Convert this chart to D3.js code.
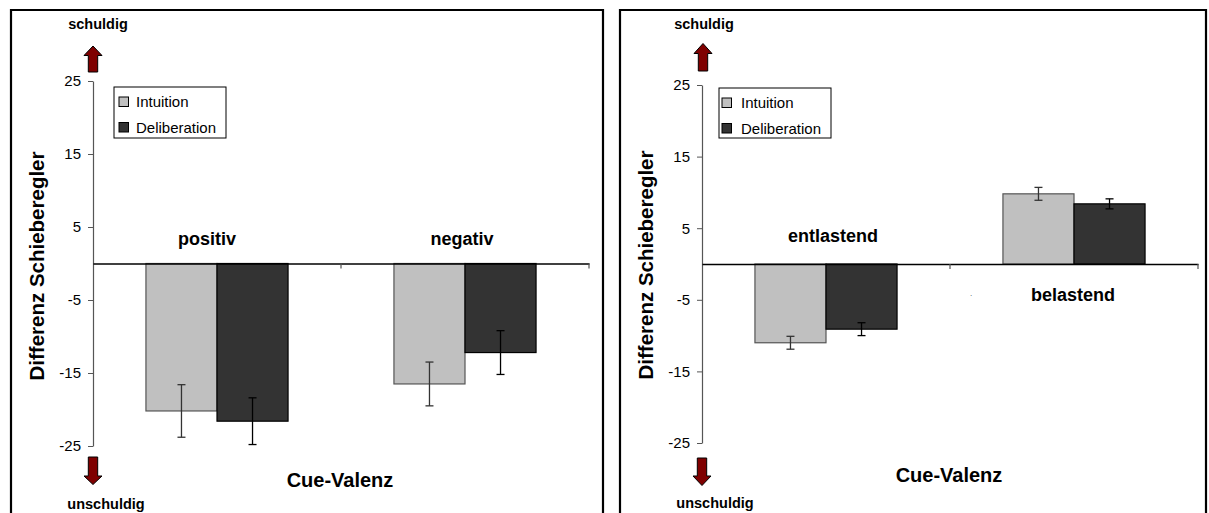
<!DOCTYPE html>
<html><head><meta charset="utf-8">
<script src="https://cdn.jsdelivr.net/npm/d3@7"></script>
<style>
html,body{margin:0;padding:0;background:#fff;}
svg{display:block;font-family:"Liberation Sans",Arial,Helvetica,sans-serif;}
</style></head>
<body>
<svg id="chart" width="1209" height="513"></svg>
<script>
// ---- data ----
const seriesNames = ["Intuition", "Deliberation"];
const yTickValues = [25, 15, 5, -5, -15, -25];
const yTickLabels = ["25", "15", "5", "-5", "-15", "-25"];
const yDomain = [-25, 25];

const categoriesA = ["positiv", "negativ"];
const intuitionA = [-20.2, -16.5];
const intuitionErrA = [3.6, 3.0];
const deliberationA = [-21.6, -12.2];
const deliberationErrA = [3.2, 3.0];

const categoriesB = ["entlastend", "belastend"];
const intuitionB = [-11.0, 9.8];
const intuitionErrB = [0.9, 0.9];
const deliberationB = [-9.1, 8.4];
const deliberationErrB = [0.9, 0.7];

const yTitle = "Differenz Schieberegler";
const xTitle = "Cue-Valenz";
const topLabel = "schuldig";
const bottomLabel = "unschuldig";

// ---- layout ----
const fills = ["#c0c0c0", "#333333"];
const strokes = ["#555555", "#000000"];
const errColors = ["#333333", "#000000"];

const panels = [
  { cats: categoriesA, vals: [intuitionA, deliberationA], errs: [intuitionErrA, deliberationErrA],
    frame: [11, 603], x0: 93, x1: 589, yTop: 81, yBot: 446,
    yTitleX: 36, yTitleY: 266, xTitleX: 340, xTitleY: 487,
    labelDx: [-10, -3], labelAbove: 19, labelBelow: 37,
    topText: [98, 29], botText: [106, 509],
    upArrow: { cx: 93, top: 46, base: 55.5, bottom: 72 },
    downArrow: { cx: 93, top: 457, base: 476, tip: 484.5 },
    legend: { x: 114, y: 87, w: 112, h: 51, sq: 5, tx: 22 } },
  { cats: categoriesB, vals: [intuitionB, deliberationB], errs: [intuitionErrB, deliberationErrB],
    frame: [620, 1206], x0: 702, x1: 1198, yTop: 85, yBot: 443,
    yTitleX: 645, yTitleY: 265, xTitleX: 949, xTitleY: 482,
    labelDx: [7, -1], labelAbove: 22, labelBelow: 37,
    topText: [704, 29], botText: [715, 508],
    upArrow: { cx: 703, top: 43.5, base: 53.5, bottom: 71 },
    downArrow: { cx: 702, top: 458, base: 476, tip: 485.5 },
    legend: { x: 719, y: 88, w: 112, h: 50, sq: 3, tx: 22 } }
];

const svg = d3.select("#chart");

panels.forEach((p, pi) => {
  const g = svg.append("g");

  // frame
  g.append("path")
    .attr("d", `M${p.frame[0]},520 V10 H${p.frame[1]} V520`)
    .attr("fill", "none").attr("stroke", "#000").attr("stroke-width", 2.2);

  const y = d3.scaleLinear().domain(yDomain).range([p.yBot, p.yTop]);
  const x = d3.scaleBand().domain(p.cats).range([p.x0, p.x1]).padding(0);
  const inner = d3.scaleBand().domain(seriesNames)
    .range([0, x.bandwidth() * 0.573]).padding(0);
  const groupOff = (x.bandwidth() - inner.range()[1]) / 2;

  // y axis
  const yAxis = d3.axisLeft(y).tickValues(yTickValues).tickSize(5).tickSizeOuter(0).tickPadding(7)
    .tickFormat((d, i) => yTickLabels[i]);
  const ya = g.append("g").attr("transform", `translate(${p.x0},0)`).call(yAxis);
  ya.select(".domain").attr("stroke", "#555").attr("stroke-width", 1.2);
  ya.selectAll(".tick line").attr("stroke", "#555");
  ya.selectAll(".tick text").attr("font-size", 15).attr("fill", "#000")
    .attr("font-family", "Liberation Sans, Arial, sans-serif");

  // bars
  seriesNames.forEach((s, si) => {
    g.selectAll(null).data(p.cats).enter().append("rect")
      .attr("x", c => x(c) + groupOff + inner(s))
      .attr("width", inner.bandwidth())
      .attr("y", (c, i) => y(Math.max(0, p.vals[si][i])))
      .attr("height", (c, i) => Math.abs(y(p.vals[si][i]) - y(0)))
      .attr("fill", fills[si]).attr("stroke", strokes[si]).attr("stroke-width", 1.2);
  });

  // zero axis line + category ticks
  const xAxis = d3.axisBottom(x).tickValues([]).tickSizeOuter(0);
  const xa = g.append("g").attr("transform", `translate(0,${y(0)})`).call(xAxis);
  xa.select(".domain").attr("stroke", "#000").attr("stroke-width", 1.4);
  g.selectAll(null).data(p.cats).enter().append("line")
    .attr("x1", c => x(c) + x.bandwidth()).attr("x2", c => x(c) + x.bandwidth())
    .attr("y1", y(0)).attr("y2", y(0) + 5)
    .attr("stroke", "#555").attr("stroke-width", 1.2);

  // error bars
  seriesNames.forEach((s, si) => {
    const cx = c => x(c) + groupOff + inner(s) + inner.bandwidth() / 2;
    const eg = g.append("g").attr("stroke", errColors[si]).attr("stroke-width", 1.3).attr("fill", "none");
    p.cats.forEach((c, i) => {
      const v = p.vals[si][i], e = p.errs[si][i];
      const xc = cx(c);
      eg.append("line").attr("x1", xc).attr("x2", xc).attr("y1", y(v + e)).attr("y2", y(v - e));
      eg.append("line").attr("x1", xc - 4).attr("x2", xc + 4).attr("y1", y(v + e)).attr("y2", y(v + e));
      eg.append("line").attr("x1", xc - 4).attr("x2", xc + 4).attr("y1", y(v - e)).attr("y2", y(v - e));
    });
  });

  // category labels (opposite side of the bars)
  p.cats.forEach((c, i) => {
    const neg = p.vals[0][i] < 0;
    g.append("text")
      .attr("x", x(c) + x.bandwidth() / 2 + p.labelDx[i])
      .attr("y", neg ? y(0) - p.labelAbove : y(0) + p.labelBelow)
      .attr("text-anchor", "middle").attr("font-weight", "bold").attr("font-size", 18)
      .text(c);
  });

  // titles
  g.append("text")
    .attr("transform", `translate(${p.yTitleX},${p.yTitleY}) rotate(-90)`)
    .attr("text-anchor", "middle").attr("dominant-baseline", "central")
    .attr("font-weight", "bold").attr("font-size", 20.5).text(yTitle);
  g.append("text").attr("x", p.xTitleX).attr("y", p.xTitleY)
    .attr("text-anchor", "middle").attr("font-weight", "bold").attr("font-size", 20).text(xTitle);

  g.append("text").attr("x", p.topText[0]).attr("y", p.topText[1])
    .attr("text-anchor", "middle").attr("font-weight", "bold").attr("font-size", 14.5).text(topLabel);
  g.append("text").attr("x", p.botText[0]).attr("y", p.botText[1])
    .attr("text-anchor", "middle").attr("font-weight", "bold").attr("font-size", 14.5).text(bottomLabel);

  // arrows
  const ua = p.upArrow, da = p.downArrow;
  g.append("path")
    .attr("d", `M${ua.cx},${ua.top} L${ua.cx + 9},${ua.base} L${ua.cx + 4.7},${ua.base} L${ua.cx + 4.7},${ua.bottom} L${ua.cx - 4.7},${ua.bottom} L${ua.cx - 4.7},${ua.base} L${ua.cx - 9},${ua.base} Z`)
    .attr("fill", "#7f0000").attr("stroke", "#000").attr("stroke-width", 1);
  g.append("path")
    .attr("d", `M${da.cx - 4.7},${da.top} L${da.cx + 4.7},${da.top} L${da.cx + 4.7},${da.base} L${da.cx + 9},${da.base} L${da.cx},${da.tip} L${da.cx - 9},${da.base} L${da.cx - 4.7},${da.base} Z`)
    .attr("fill", "#7f0000").attr("stroke", "#000").attr("stroke-width", 1);

  // legend
  const L = p.legend;
  const lg = g.append("g").attr("transform", `translate(${L.x},${L.y})`);
  lg.append("rect").attr("width", L.w).attr("height", L.h)
    .attr("fill", "#fff").attr("stroke", "#000").attr("stroke-width", 1);
  seriesNames.forEach((s, si) => {
    const cyc = 14.5 + si * 25.5;
    lg.append("rect").attr("x", L.sq).attr("y", cyc - 4.5).attr("width", 9.5).attr("height", 9.5)
      .attr("fill", fills[si]).attr("stroke", "#000").attr("stroke-width", 1);
    lg.append("text").attr("x", L.tx).attr("y", cyc + 5.5)
      .attr("font-size", 15).text(s);
  });

  if (pi === 1) {
    g.append("text").attr("x", 971).attr("y", 296).attr("text-anchor", "middle")
      .attr("font-size", 8).attr("fill", "#444").text(".");
  }
});
</script>
</body></html>
